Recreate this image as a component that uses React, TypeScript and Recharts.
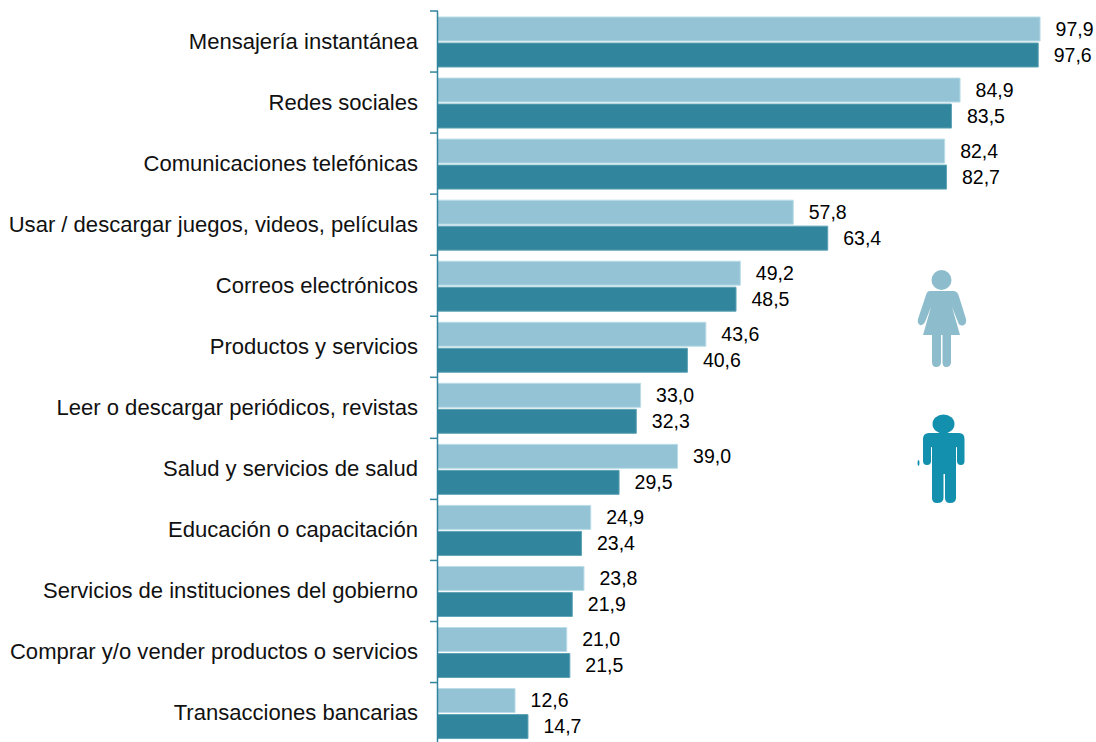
import { BarChart, Bar, XAxis, YAxis, LabelList } from "recharts";

const categories = [
  "Mensajería instantánea",
  "Redes sociales",
  "Comunicaciones telefónicas",
  "Usar / descargar juegos, videos, películas",
  "Correos electrónicos",
  "Productos y servicios",
  "Leer o descargar periódicos, revistas",
  "Salud y servicios de salud",
  "Educación o capacitación",
  "Servicios de instituciones del gobierno",
  "Comprar y/o vender productos o servicios",
  "Transacciones bancarias",
];
const mujeres = [97.9, 84.9, 82.4, 57.8, 49.2, 43.6, 33.0, 39.0, 24.9, 23.8, 21.0, 12.6];
const hombres = [97.6, 83.5, 82.7, 63.4, 48.5, 40.6, 32.3, 29.5, 23.4, 21.9, 21.5, 14.7];

const data = categories.map((name, i) => ({ name, mujeres: mujeres[i], hombres: hombres[i] }));

const AXIS_COLOR = "#31859C";
const BAND = 61.05;
const FONT = "'Liberation Sans', Arial, sans-serif";

const formatValue = (v: any) => Number(v).toFixed(1).replace(".", ",");

// ticks sit between the categories, so each one is drawn half a band above its label
const CategoryTick = ({ x, y, payload, index }: any) => (
  <g>
    <text x={x - 11.5} y={y} dy={7} textAnchor="end" fontSize={22.05} fontFamily={FONT} fill="#111">
      {payload.value}
    </text>
    <line x1={x + 0.5} x2={x + 8.5} y1={y - BAND / 2} y2={y - BAND / 2} stroke={AXIS_COLOR} strokeWidth={1.5} />
    {index === categories.length - 1 && (
      <line x1={x + 0.5} x2={x + 8.5} y1={y + BAND / 2} y2={y + BAND / 2} stroke={AXIS_COLOR} strokeWidth={1.5} />
    )}
  </g>
);

const Icons = () => (
  <svg width={1096} height={742} style={{ position: "absolute", left: 0, top: 0 }}>
    <g fill="#8DBCCC">
      <circle cx={941.5} cy={280} r={10} />
      <path d="M930 291 H953 Q957 291 958.5 295 L966 319 Q967 324 963 325.500 Q959 326 958 322 L952 307 L960 335 H951 V362 Q951 367 946 367 Q942.500 367 942.500 362 V335 H941 V362 Q941 367 936 367 Q932 367 932 362 V335 H923 L931 307 L925 322 Q923 326 920 325 Q917 323 918 319 L926 295 Q927 291 930 291 Z" />
    </g>
    <g fill="#1290AE">
      <ellipse cx={943.5} cy={424} rx={11} ry={9.500} />
      <path d="M929 433 H959 Q964.500 433 964.500 439 V461 Q964.500 465 961 465 Q957 465 957 461 V447 H956 V498 Q956 503 950 503 Q945 503 945 498 V474 H943.500 V498 Q943.500 503 937 503 Q932 503 932 498 V447 H931 V461 Q931 465 927 465 Q923 465 923 461 V439 Q923 433 929 433 Z" />
      <ellipse cx={918.500} cy={463} rx={1} ry={3} />
    </g>
  </svg>
);

export default function App() {
  return (
    <div style={{ position: "absolute", left: 0, top: 0, width: 1096, height: 742, overflow: "hidden", background: "#fff" }}>
      <BarChart
        width={1096}
        height={760}
        data={data}
        layout="vertical"
        barSize={24}
        barGap={2}
        barCategoryGap={5}
        margin={{ top: 11, right: 43, bottom: 16.4, left: 0 }}
      >
        <XAxis type="number" domain={[0, 100]} hide />
        <YAxis
          type="category"
          dataKey="name"
          width={437.5}
          interval={0}
          axisLine={{ stroke: AXIS_COLOR, strokeWidth: 1.5 }}
          tickLine={false}
          tick={<CategoryTick />}
        />
        <Bar dataKey="mujeres" fill="#93C3D4" stroke="#BBDDE8" strokeWidth={1} isAnimationActive={false}>
          <LabelList dataKey="mujeres" position="right" offset={15.5} formatter={formatValue} fontSize={19.5} fontFamily={FONT} fill="#000" />
        </Bar>
        <Bar dataKey="hombres" fill="#31859C" stroke="#5FA3B6" strokeWidth={1} isAnimationActive={false}>
          <LabelList dataKey="hombres" position="right" offset={15.5} formatter={formatValue} fontSize={19.5} fontFamily={FONT} fill="#000" />
        </Bar>
      </BarChart>
      <Icons />
    </div>
  );
}
